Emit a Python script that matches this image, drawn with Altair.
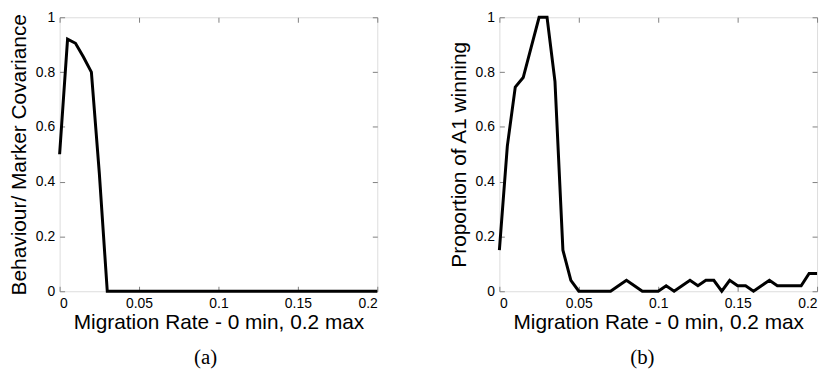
import altair as alt
import pandas as pd

rate = [0.0, 0.005, 0.01, 0.015, 0.02, 0.025, 0.03, 0.035, 0.04, 0.045,
        0.05, 0.055, 0.06, 0.065, 0.07, 0.075, 0.08, 0.085, 0.09, 0.095,
        0.1, 0.105, 0.11, 0.115, 0.12, 0.125, 0.13, 0.135, 0.14, 0.145,
        0.15, 0.155, 0.16, 0.165, 0.17, 0.175, 0.18, 0.185, 0.19, 0.195, 0.2]

covariance = [0.5, 0.92, 0.905, 0.855, 0.8, 0.43, 0.0, 0.0, 0.0, 0.0,
              0.0, 0.0, 0.0, 0.0, 0.0, 0.0, 0.0, 0.0, 0.0, 0.0,
              0.0, 0.0, 0.0, 0.0, 0.0, 0.0, 0.0, 0.0, 0.0, 0.0,
              0.0, 0.0, 0.0, 0.0, 0.0, 0.0, 0.0, 0.0, 0.0, 0.0, 0.0]

proportion = [0.15, 0.53, 0.745, 0.78, 0.89, 1.0, 1.0, 0.765, 0.15, 0.04,
              0.0, 0.0, 0.0, 0.0, 0.0, 0.02, 0.04, 0.02, 0.0, 0.0,
              0.0, 0.02, 0.0, 0.02, 0.04, 0.02, 0.04, 0.04, 0.0, 0.04,
              0.02, 0.02, 0.0, 0.02, 0.04, 0.02, 0.02, 0.02, 0.02, 0.065, 0.065]

x_ticks = [0, 0.05, 0.1, 0.15, 0.2]
y_ticks = [0, 0.2, 0.4, 0.6, 0.8, 1]

x_title = "Migration Rate - 0 min, 0.2 max"

W, H = 320, 276
GRAY = "#808080"
SANS = "Liberation Sans"

label_style = dict(labelFont=SANS, labelFontSize=14, labelColor="black",
                   titleFont=SANS, titleFontSize=21, titleFontWeight="normal",
                   titleColor="black")
tick_style = dict(labels=False, title=None, domain=False, grid=False, ticks=True,
                  tickSize=5, tickColor=GRAY, tickWidth=1)


def panel(values, ytitle, caption, dx):
    df = pd.DataFrame({"rate": rate, "v": values})
    xs = alt.Scale(domain=[0, 0.2], nice=False, zero=False)
    ys = alt.Scale(domain=[0, 1], nice=False, zero=False)

    main = alt.Chart(df).mark_line(color="black", strokeWidth=3).encode(
        x=alt.X("rate:Q", scale=xs,
                axis=alt.Axis(orient="bottom", values=x_ticks, format="~g",
                              title=x_title, ticks=False, domain=False, grid=False,
                              labelPadding=5, titlePadding=2, **label_style)),
        y=alt.Y("v:Q", scale=ys,
                axis=alt.Axis(orient="left", values=y_ticks, format="~g",
                              title=ytitle, ticks=False, domain=False, grid=False,
                              labelPadding=5, titlePadding=6, **label_style)),
    )
    t1 = alt.Chart(df).mark_line(opacity=0).encode(
        x=alt.X("rate:Q", scale=xs,
                axis=alt.Axis(orient="top", offset=-H, values=x_ticks, **tick_style)),
        y=alt.Y("v:Q", scale=ys,
                axis=alt.Axis(orient="right", offset=-W, values=y_ticks, **tick_style)),
    )
    t2 = alt.Chart(df).mark_line(opacity=0).encode(
        x=alt.X("rate:Q", scale=xs,
                axis=alt.Axis(orient="bottom", offset=-H, values=x_ticks, **tick_style)),
        y=alt.Y("v:Q", scale=ys,
                axis=alt.Axis(orient="left", offset=-W, values=y_ticks, **tick_style)),
    )
    return alt.layer(main, t1, t2).resolve_axis(x="independent", y="independent").properties(
        width=W, height=H,
        title=alt.TitleParams(caption, orient="bottom", anchor="middle",
                              font="Liberation Serif", fontSize=21,
                              fontWeight="normal", color="black", offset=14, dx=dx),
    )


chart = alt.hconcat(
    panel(covariance, "Behaviour/ Marker Covariance", "(a)", -13),
    panel(proportion, "Proportion of A1 winning", "(b)", -16),
    spacing=64,
).properties(
    padding={"left": 0, "top": 0, "right": 0, "bottom": 0},
).configure_view(
    stroke=GRAY, strokeWidth=1,
).configure(background="white")

chart.save("out.html", embed_options={"renderer": "svg", "actions": False})
